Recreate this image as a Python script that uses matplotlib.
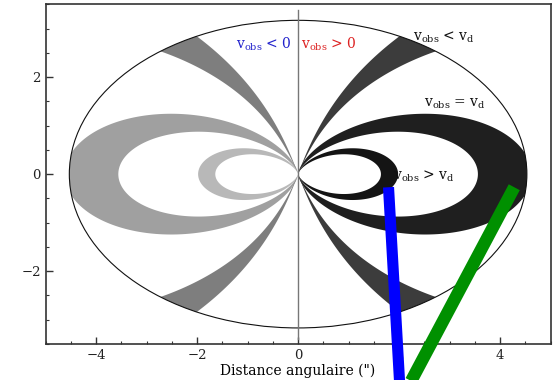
"""Isovelocity regions of an inclined Keplerian disk (schéma)."""
import matplotlib.pyplot as plt
import numpy as np
from matplotlib.lines import Line2D
from matplotlib.patches import Ellipse

DISK_RADIUS = 4.53
COS_INC = 0.70

# Boucles (coordonnées déprojetées) : r = C cos^n(phi)
LOOP_OUTER_C = [1.98, 4.62]
LOOP_OUTER_N = [2.0, 2.0]
LOOP_INNER_C = [1.64, 3.56]
LOOP_INNER_N = [2.4, 2.5]
LOOP_COLORS_RED = ["#141414", "#1f1f1f"]
LOOP_COLORS_BLUE = ["#b8b8b8", "#a0a0a0"]

# Coins (rayons) : angle au centre et au bord (degrés, déprojeté)
RAY_ANGLE_CENTER = [76.0, 74.0]
RAY_ANGLE_RIM = [63.7, 53.0]
RAY_COLOR_RED = "#3c3c3c"
RAY_COLOR_BLUE = "#7e7e7e"

X_TICKS = [-4, -2, 0, 2, 4]
Y_TICKS = [-2, 0, 2]

# Traits ajoutés par-dessus la figure (coordonnées des données)
BLUE_STROKE_X = [1.79, 2.01]
BLUE_STROKE_Y = [-0.27, -4.3]
GREEN_STROKE_X = [4.28, 2.22]
GREEN_STROKE_Y = [-0.27, -4.3]


def project(r, phi, sx, sy):
    """Passe du plan du disque au plan du ciel."""
    return sx * r * np.cos(phi), sy * r * np.sin(phi) * COS_INC


def loop_polygon(c_out, n_out, c_in, n_in, sx):
    phi = np.linspace(-np.pi / 2, np.pi / 2, 721)
    r_out = np.minimum(c_out * np.abs(np.cos(phi)) ** n_out, DISK_RADIUS)
    r_in = c_in * np.abs(np.cos(phi)) ** n_in
    xo, yo = project(r_out, phi, sx, 1)
    xi, yi = project(r_in[::-1], phi[::-1], sx, 1)
    return np.concatenate([xo, xi]), np.concatenate([yo, yi])


def ray_polygon(sx, sy):
    # bords légèrement courbes : l'angle varie comme r^1.3
    r = np.linspace(0, DISK_RADIUS, 200)
    a0 = np.radians(RAY_ANGLE_CENTER)
    a1 = np.radians(RAY_ANGLE_RIM)
    t = (r / DISK_RADIUS) ** 1.3
    phi1 = a0[0] + (a1[0] - a0[0]) * t
    phi2 = a0[1] + (a1[1] - a0[1]) * t
    arc = np.linspace(a1[0], a1[1], 50)
    x1, y1 = project(r, phi1, sx, sy)
    xa, ya = project(np.full_like(arc, DISK_RADIUS), arc, sx, sy)
    x2, y2 = project(r[::-1], phi2[::-1], sx, sy)
    return np.concatenate([x1, xa, x2]), np.concatenate([y1, ya, y2])


fig = plt.figure(figsize=(5.54, 3.80), dpi=100)
ax = fig.add_axes([0.0823, 0.095, 0.9116, 0.8935])
plt.rcParams["mathtext.fontset"] = "dejavuserif"

for sx, loop_colors, ray_color in [(1, LOOP_COLORS_RED, RAY_COLOR_RED),
                                   (-1, LOOP_COLORS_BLUE, RAY_COLOR_BLUE)]:
    for k in range(len(LOOP_OUTER_C)):
        px, py = loop_polygon(LOOP_OUTER_C[k], LOOP_OUTER_N[k],
                              LOOP_INNER_C[k], LOOP_INNER_N[k], sx)
        ax.fill(px, py, color=loop_colors[k], lw=0, zorder=1)
    for sy in (1, -1):
        px, py = ray_polygon(sx, sy)
        ax.fill(px, py, color=ray_color, lw=0, zorder=1)

ax.add_patch(Ellipse((0, 0), 2 * DISK_RADIUS, 2 * DISK_RADIUS * COS_INC,
                     fill=False, ec="#111111", lw=0.8, zorder=2))
ax.plot([0, 0], [-3.4, 3.38], color="#777777", lw=1.0, zorder=2)

txt = dict(fontsize=10, family="DejaVu Serif", zorder=3)
ax.text(-0.12, 2.68, r"$\mathrm{v_{obs}}$ < 0", color="#2222cc", ha="right",
        va="center", **txt)
ax.text(0.06, 2.68, r"$\mathrm{v_{obs}}$ > 0", color="#dd2222", ha="left",
        va="center", **txt)
ax.text(2.28, 2.83, r"$\mathrm{v_{obs}}$ < $\mathrm{v_d}$", color="#111111",
        va="center", **txt)
ax.text(2.5, 1.44, r"$\mathrm{v_{obs}}$ = $\mathrm{v_d}$", color="#111111",
        va="center", **txt)
ax.text(1.88, -0.05, r"$\mathrm{v_{obs}}$ > $\mathrm{v_d}$", color="#111111",
        va="center", **txt)

ax.set_xlim(-5, 5)
ax.set_ylim(-3.5, 3.5)
ax.set_xticks(X_TICKS)
ax.set_yticks(Y_TICKS)
ax.set_xticks(np.arange(-5, 5.01, 0.5), minor=True)
ax.set_yticks(np.arange(-3.5, 3.51, 0.5), minor=True)
ax.tick_params(which="both", direction="in", colors="#333333",
               labelcolor="#222222", labelsize=9.5)
ax.tick_params(which="major", length=5, width=1.0)
ax.tick_params(which="minor", length=2.5, width=0.8)
for label in ax.get_xticklabels() + ax.get_yticklabels():
    label.set_family("DejaVu Serif")
for spine in ax.spines.values():
    spine.set_linewidth(1.2)
    spine.set_color("#333333")
ax.set_xlabel('Distance angulaire (")', fontsize=10, family="DejaVu Serif",
              labelpad=1)

ax.add_line(Line2D(BLUE_STROKE_X, BLUE_STROKE_Y, color="#0000ff", lw=8,
                   solid_capstyle="butt", clip_on=False, zorder=5))
ax.add_line(Line2D(GREEN_STROKE_X, GREEN_STROKE_Y, color="#009000", lw=9,
                   solid_capstyle="butt", clip_on=False, zorder=5))

fig.savefig("out.png", dpi=100)
